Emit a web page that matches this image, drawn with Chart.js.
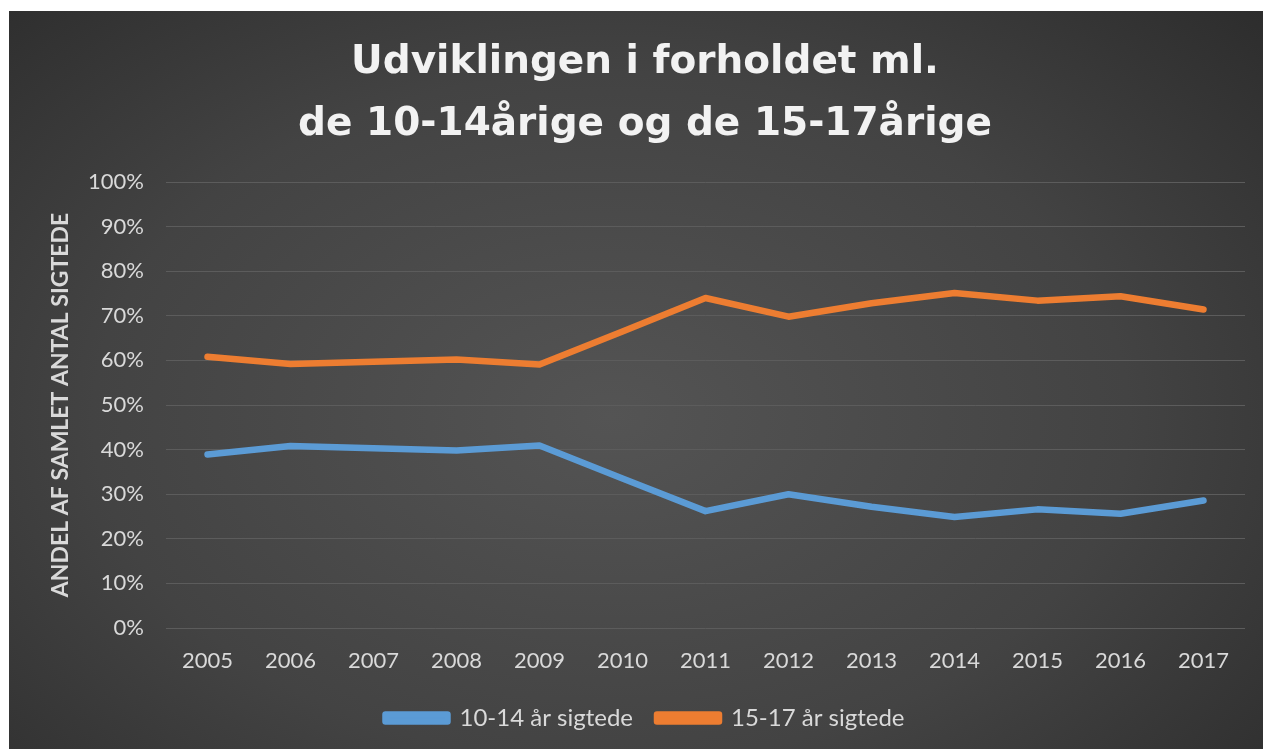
<!DOCTYPE html>
<html>
<head>
<meta charset="utf-8">
<script src="https://cdn.jsdelivr.net/npm/chart.js@4"></script>
<style>
  html, body { margin: 0; padding: 0; background: #fff; }
  #wrap {
    position: absolute; left: 9px; top: 11px; width: 1254px; height: 738px;
    background: radial-gradient(ellipse 75% 85% at 48% 55%, #545454 0%, #434343 55%, #2a2a2a 100%);
  }
  canvas { display: block; }
</style>
</head>
<body>
<div id="wrap"><canvas id="myChart" width="1254" height="738"></canvas></div>
<script>
var years = ['2005', '2006', '2007', '2008', '2009', '2010', '2011', '2012', '2013', '2014', '2015', '2016', '2017'];
var youngShare = [0.389, 0.408, 0.403, 0.398, 0.409, 0.335, 0.262, 0.300, 0.272, 0.249, 0.266, 0.256, 0.286];
var olderShare = [0.608, 0.592, 0.597, 0.602, 0.591, 0.665, 0.740, 0.698, 0.728, 0.751, 0.734, 0.744, 0.714];
var seriesNames = ['10-14 år sigtede', '15-17 år sigtede'];
var titleLines = ['Udviklingen i forholdet ml.', 'de 10-14årige og de 15-17årige'];
var yTitle = 'ANDEL AF SAMLET ANTAL SIGTEDE';

Chart.defaults.font.family = 'Lato, "Open Sans", sans-serif';
Chart.defaults.color = '#d9d9d9';

const ctx = document.getElementById('myChart').getContext('2d');
const myChart = new Chart(ctx, {
  type: 'line',
  data: {
    labels: years,
    datasets: [{
      label: seriesNames[0],
      data: youngShare,
      borderColor: '#5b9bd5',
      backgroundColor: '#5b9bd5',
      borderWidth: 6.5,
      pointRadius: 0,
      tension: 0,
      borderCapStyle: 'round',
      borderJoinStyle: 'round'
    }, {
      label: seriesNames[1],
      data: olderShare,
      borderColor: '#ed7d31',
      backgroundColor: '#ed7d31',
      borderWidth: 6.5,
      pointRadius: 0,
      tension: 0,
      borderCapStyle: 'round',
      borderJoinStyle: 'round'
    }]
  },
  options: {
    responsive: false,
    animation: false,
    layout: { padding: { left: 36, right: 18, top: 0, bottom: 9 } },
    plugins: {
      title: {
        display: true,
        text: titleLines,
        color: '#f2f2f2',
        font: { family: '"DejaVu Sans", sans-serif', size: 39, weight: 'bold', lineHeight: 62 / 39 },
        padding: { top: 21, bottom: 26 }
      },
      legend: {
        position: 'bottom',
        labels: {
          boxWidth: 62,
          boxHeight: 7,
          padding: 24,
          color: '#d9d9d9',
          font: { size: 24 }
        }
      },
      tooltip: { enabled: false }
    },
    scales: {
      x: {
        offset: true,
        grid: { display: false, drawTicks: false },
        border: { display: false },
        ticks: { padding: 20, font: { size: 22 }, color: '#d9d9d9', maxRotation: 0 },
        afterFit: function (s) { s.height = 54; }
      },
      y: {
        min: 0,
        max: 1,
        grid: { color: '#5c5c5c', lineWidth: 1, drawTicks: false },
        border: { display: false },
        ticks: {
          stepSize: 0.1,
          padding: 22,
          font: { size: 22 },
          color: '#d9d9d9',
          callback: function (v) { return Math.round(v * 100) + '%'; }
        },
        title: {
          display: true,
          text: yTitle,
          color: '#d9d9d9',
          font: { size: 23, weight: 'bold' },
          padding: { top: 2, bottom: 0 }
        },
        afterFit: function (s) { s.width = 121; }
      }
    }
  }
});
</script>
</body>
</html>
